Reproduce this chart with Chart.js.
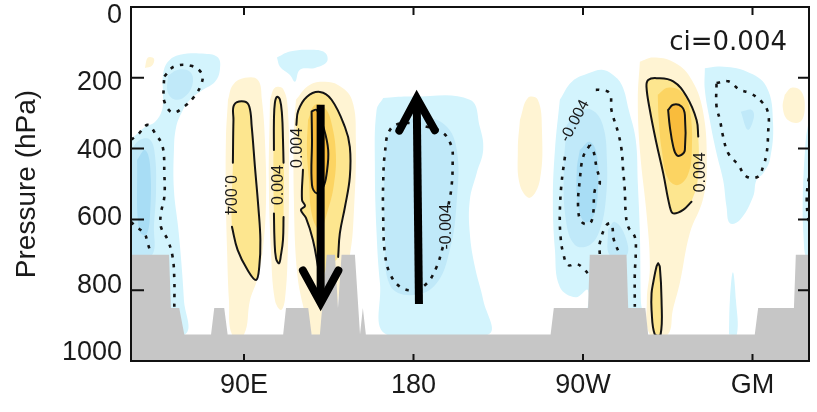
<!DOCTYPE html>
<html>
<head>
<meta charset="utf-8">
<script src="https://cdn.jsdelivr.net/npm/chart.js@4.4.0/dist/chart.umd.min.js"></script>
<style>
  html, body { margin: 0; padding: 0; background: #fff; }
</style>
</head>
<body>
<canvas id="chart" width="817" height="412"></canvas>
<script>
// axes
const lonTicks = [90, 180, 270, 360];
const lonLabels = ['90E', '180', '90W', 'GM'];
const presTicks = [0, 200, 400, 600, 800, 1000];

// topography (longitude, hPa)
const topoLon = [30, 50.2, 51.2, 55.6, 58.3, 72.5, 74.2, 79.5, 81.3, 110.8, 112.3, 124.1, 125.9, 130.3, 133.9, 138.3, 139.9, 141.8, 148.9, 151.6, 153.1, 154.7, 252.8, 254.5, 272.7, 273.6, 293.1, 294, 303.1, 304.6, 361.2, 363, 382, 383, 390];
const topoP = [700, 700, 850, 850, 925, 925, 850, 850, 925, 925, 850, 850, 925, 925, 700, 700, 850, 700, 700, 925, 850, 925, 925, 850, 850, 700, 700, 850, 850, 925, 925, 850, 850, 700, 700];

// shaded regions [lon, hPa]
// negative (blue)
const blueA1 = [[30,375],[32.7,361],[37.4,339],[42.7,325],[46.5,291],[47,248],[47,192],[49.6,155],[56,135],[69.3,132],[76.2,143],[77.2,177],[74.6,211],[68.2,234],[61.3,262],[57.1,296],[53.9,341],[52.8,404],[52.8,517],[55,621],[56.5,706],[58.1,828],[58.7,925],[30,925]];
const blueA2top = [[49.6,194],[55,177],[61.3,183],[62.9,211],[59.7,248],[53.9,262],[49.6,242]];
const blueA2left = [[30,404],[34.8,375],[40.1,375],[42.7,418],[43.3,517],[42.2,616],[41.1,701],[30,701]];
const blueA3 = [[33.2,432],[37.4,404],[40.1,446],[40.1,588],[38,644],[34.2,630]];
const blueC = [[107.5,143],[114.4,126],[125,121],[133,129],[134,155],[127.7,172],[119.7,177],[117.1,211],[114.4,192],[109.1,169]];
const blueD1 = [[163.9,257],[178.1,253],[209.9,262],[215.2,338],[217,404],[213.5,470],[209.9,545],[209.9,639],[212.6,734],[217,828],[219.7,925],[165.7,925],[162.2,781],[160.4,639],[159.5,451],[160.4,291]];
const blueD2 = [[170.1,333],[183.4,313],[196.7,333],[203,404],[203,545],[199.3,686],[191.4,786],[178.1,814],[167.5,786],[164.8,658],[164.3,489],[165.9,375]];
const blueF1 = [[257.7,262],[264.1,211],[273.6,186],[280,177],[285.3,189],[290.6,220],[294.3,291],[298,375],[299.1,497],[300.2,638],[300.7,828],[301.2,925],[273.6,925],[272.6,800],[266.2,820],[257.7,791],[255.1,686],[254,545],[255.1,404]];
const blueF2 = [[261.4,333],[267.3,296],[274.7,291],[280.5,333],[282.7,432],[282.1,545],[278.9,630],[273.6,672],[265.7,672],[260.9,602],[259.8,460]];
const blueF2b = [[283.2,630],[286.9,607],[292.2,644],[293.3,701],[284.2,701]];
const blueF3 = [[268.3,404],[273.6,381],[277.4,418],[277.9,517],[275.8,588],[271,607],[267.3,559],[266.7,460]];
const blueI1 = [[334.7,173],[342.7,168],[356.8,182],[367.4,225],[370.9,328],[369.2,432],[365.6,470],[362.1,489],[360.3,536],[353.3,602],[348,611],[346.2,564],[344.4,489],[340.9,413],[337.3,319],[334.7,234]];
const blueI2 = [[353.8,296],[359.6,291],[360.7,313],[357.5,347]];
const blueI3 = [[347.5,925],[348,828],[349.6,749],[351.2,828],[351.7,925]];
const blueJ = [[390,319],[388.3,375],[386.7,545],[387.2,658],[388.3,706],[390,706]];
// positive (yellow)
const yelA = [[37.4,172],[39,143],[42.2,146],[41.1,166]];
const yelB1 = [[81.5,262],[84.1,220],[90.5,200],[97.4,206],[99.5,262],[101.1,375],[101.7,545],[100,686],[96.9,771],[93.2,828],[90,925],[83.6,925],[82,828],[81,686],[80.4,545],[80.4,375]];
const yelB2 = [[84.1,440],[84.4,319],[84.8,276],[90.1,267],[92.8,281],[94.1,338],[95.8,451],[97.6,564],[98.7,658],[98.1,734],[96.4,771],[91.9,743],[86.6,686],[83.6,621]];
const yelC1a = [[103.8,262],[106.4,228],[110.7,231],[113.3,291],[113.9,489],[113.3,686],[111.7,828],[109.6,856],[106.4,828],[104.3,686],[103.2,489]];
const yelC1b = [[105.9,276],[107.5,254],[109.6,268],[110.7,347],[111.2,446],[111,593],[110.7,658],[109.6,701],[108.6,724],[107,710],[105.9,583],[105.6,446],[105.9,347]];
const yelC2a = [[117.6,262],[124,223],[131.4,211],[139.9,220],[147.3,262],[149.4,375],[148.4,573],[146.2,701],[140.9,800],[135.6,925],[126.1,925],[121.3,842],[118.1,743],[116.5,545],[116.5,347]];
const yelC2b = [[118.8,293],[123.3,254],[130.3,240],[136.5,262],[143.6,339],[146.2,395],[146.2,480],[143.6,565],[140.9,639],[140,706],[135,730],[130.3,766],[129.3,734],[126.6,658],[122.9,596],[120.2,573],[122.4,562],[120.8,545],[121.3,460],[119.5,400],[117.8,333]];
const yelC2c = [[124,319],[127.7,276],[133,285],[136.7,333],[138.8,418],[137.7,503],[134.6,573],[130.3,630],[126.1,588],[124.5,489],[123.4,404]];
const yelC2d = [[125.9,295],[128.6,291],[132.1,338],[134.7,404],[133.9,470],[132.1,508],[128.6,526],[126.1,503],[126.1,375]];
const yelE = [[236.5,319],[240.7,257],[246,262],[248.2,347],[247.1,489],[241.8,539],[236.5,503],[235.4,404]];
const yelG1 = [[300.2,155],[307.1,143],[317.7,155],[326.7,197],[333.6,291],[335.7,452],[333.6,545],[326.7,639],[321.4,780],[317.7,856],[315,925],[305.5,925],[303.9,828],[305.5,735],[303.9,593],[300.2,404],[299.1,262]];
const yelG2 = [[327.6,550],[323.2,573],[317.9,583],[316.1,564],[312.6,470],[309,385],[305.5,291],[303.7,225],[304.6,206],[309,201],[317.9,210],[325,253],[330.3,319],[331.2,366],[331.5,432],[330.5,503]];
const yelG3 = [[309.7,248],[315,228],[322.4,240],[326.7,291],[327.8,404],[325.7,474],[320.4,503],[315,483],[311.8,404],[310.2,319]];
const yelG4 = [[315.2,291],[317.9,276],[322.3,281],[324.1,305],[324.1,404],[322.3,418],[319.7,418],[317.9,394],[316.1,338]];
const yelH = [[309.9,724],[310.8,734],[311.7,828],[311.2,925],[308.1,925],[306.4,856],[306.4,809],[307.2,781],[309,734]];
const yelJ = [[377.1,248],[380.8,228],[386.1,240],[387.7,291],[385.1,325],[378.8,319],[376.1,285]];

// contour lines (+0.004 solid, -0.004 dashed)
const cB = [[83.6,621],[86.6,686],[91.9,743],[96.4,771],[98.1,734],[98.7,658],[97.6,564],[95.8,451],[94.1,338],[92.8,281],[90.1,267],[84.8,276],[84.4,319],[84.1,440]];
const cC1a = [[105.9,404],[105.9,319],[106.4,271],[107.5,254],[109.1,262],[110.2,305],[110.7,375],[111,440]];
const cC1b = [[111,593],[110.7,658],[109.6,701],[108.6,724],[107,710],[106.2,658],[105.9,583]];
const cC2a = [[117.8,333],[118.8,293],[123.3,254],[130.3,240],[136.5,262],[143.6,339],[146.2,395],[146.2,480],[143.6,565],[140.9,639],[140,706]];
const cC2b = [[121.3,460],[120.8,545],[122.4,562],[120.2,573],[122.9,596],[126.6,658],[129.3,734],[130.3,766]];
const cG = [[327.6,550],[323.2,573],[317.9,583],[316.1,564],[312.6,470],[309,385],[305.5,291],[303.7,225],[304.6,206],[309,201],[317.9,210],[325,253],[330.3,319],[331.2,366]];
const dA1 = [[47.7,196],[53,168],[61.8,166],[67.5,187],[67.5,215],[63.6,253],[58.3,281],[52.1,298],[47.7,267],[47.4,225]];
const dA2 = [[30,375],[33.6,361],[38.9,333],[43.3,361],[46.8,394],[47.7,470],[47.7,536],[45.9,583],[45.9,621],[49.5,658],[52.1,706],[53,771],[53,847]];
const dA3 = [[30,607],[32.7,621],[37.1,639],[38.9,668],[40.6,696]];
const dD = [[195.6,678],[192.3,734],[187,781],[179.9,800],[172.8,790],[167.5,753],[164.8,696],[163.9,592],[163.9,498],[164.8,413],[167.5,347],[174.5,328],[187,338],[195.8,356],[200.2,394],[200.8,432],[200.2,508],[198.4,564]];
const dF1 = [[276.8,234],[278.9,234],[284.2,244],[285.1,291],[288.7,356],[290.5,404],[291.3,460],[292.2,517],[292.7,583],[294,621],[297.5,649],[298,696],[297.5,753],[297.5,847]];
const dF2 = [[260.4,423],[258.6,498],[257.7,583],[258.1,649],[259.5,696],[262.1,729],[266.6,726],[270.1,738],[272.7,753]];
const dF3 = [[273.6,390],[270.1,423],[268.3,489],[267.4,564],[269.2,607],[273.6,611],[275.4,583],[276.3,517],[278.9,498],[277.1,451],[275.4,404]];
const dF4 = [[278.9,698],[278.9,667],[282.5,616],[285.1,613],[286.4,658],[289.5,698]];
const dI = [[340.9,215],[347.1,210],[353.3,234],[358.6,243],[364.8,267],[368.3,300],[368.3,356],[367.5,413],[365.6,451],[363,479],[356.8,479],[352.4,446],[347.1,413],[344.4,366],[342.7,319],[340.9,281]];
const dJ = [[390,483],[389.3,503],[388.8,545],[389.3,588],[390,607]];

// contour labels
const labelLon = [82.5, 108.4, 118.4, 197.6, 265.7, 332.3];
const labelP = [531, 503, 398, 621, 322, 467];
const labelText = ['0.004', '0.004', '0.004', '-0.004', '-0.004', '0.004'];
const labelAngle = [90, -90, -90, -90, -62, -90];

// arrows [lon, hPa] tail -> head
const arrowDown = [[130.7, 276], [130.7, 836]];
const arrowUp = [[182.9, 839], [181.7, 257]];

const BLUE1 = '#d3f4fd', BLUE2 = '#c0e9f9', BLUE3 = '#a8ddf5';
const YEL1 = '#fff4d3', YEL2 = '#fde68f', YEL3 = '#fcd462', ORANGE = '#f9bc3c';
const FONT = "'Liberation Sans', Arial, Helvetica, sans-serif";

const toXY = pts => pts.map(([x, y]) => ({x, y}));

function area(pts, color) {
    return {
        data: toXY(pts.concat([pts[0]])), showLine: true, fill: 'shape',
        backgroundColor: color, borderColor: 'rgba(0,0,0,0)', borderWidth: 0,
        pointRadius: 0, tension: 0.4
    };
}

function contour(pts, dashed, closed) {
    const p = closed ? pts.concat([pts[0]]) : pts;
    return {
        data: toXY(p), showLine: true, fill: false,
        borderColor: '#141414', borderWidth: dashed ? 2.6 : 2,
        borderDash: dashed ? [3.5, 6.5] : [], borderCapStyle: dashed ? 'butt' : 'round',
        pointRadius: 0, tension: 0.4
    };
}

const datasets = [
    area(blueA1, BLUE1), area(blueC, BLUE1), area(blueD1, BLUE1), area(blueF1, BLUE1),
    area(blueI1, BLUE1), area(blueI3, BLUE1), area(blueJ, BLUE1),
    area(yelA, YEL1), area(yelB1, YEL1), area(yelC1a, YEL1), area(yelC2a, YEL1),
    area(yelE, YEL1), area(yelG1, YEL1), area(yelJ, YEL1),
    area(blueA2top, BLUE2), area(blueA2left, BLUE2), area(blueD2, BLUE2),
    area(blueF2, BLUE2), area(blueF2b, BLUE2), area(blueI2, BLUE2),
    area(blueA3, BLUE3), area(blueF3, BLUE3),
    area(yelB2, YEL2), area(yelC1b, YEL2), area(yelC2b, YEL2), area(yelG2, YEL2), area(yelH, YEL2),
    area(yelC2c, YEL3), area(yelG3, YEL3),
    area(yelC2d, ORANGE), area(yelG4, ORANGE),
    contour(cB, false), contour(cC1a, false), contour(cC1b, false),
    contour(cC2a, false), contour(cC2b, false), contour(yelC2d, false, true),
    contour(cG, false), contour(yelG4, false, true), contour(yelH, false, true),
    contour(dA1, true, true), contour(dA2, true), contour(dA3, true), contour(dD, true),
    contour(dF1, true), contour(dF2, true), contour(dF3, true, true), contour(dF4, true),
    contour(dI, true, true), contour(dJ, true),
    {
        data: toXY(topoLon.map((x, i) => [x, topoP[i]])), showLine: true, fill: {value: 1000},
        backgroundColor: '#c6c6c6', borderColor: 'rgba(0,0,0,0)', borderWidth: 0,
        pointRadius: 0, tension: 0
    }
];
// first dataset at the bottom, last on top
datasets.forEach((d, i) => { d.order = datasets.length - i; });

function drawArrow(ctx, x0, y0, x1, y1) {
    const ang = Math.atan2(y1 - y0, x1 - x0);
    const hl = 37, spread = 0.5;
    ctx.lineCap = 'butt';
    ctx.beginPath();
    ctx.moveTo(x0, y0);
    ctx.lineTo(x1, y1);
    ctx.stroke();
    ctx.lineCap = 'round';
    ctx.lineJoin = 'miter';
    ctx.beginPath();
    ctx.moveTo(x1 - hl * Math.cos(ang - spread), y1 - hl * Math.sin(ang - spread));
    ctx.lineTo(x1, y1);
    ctx.lineTo(x1 - hl * Math.cos(ang + spread), y1 - hl * Math.sin(ang + spread));
    ctx.stroke();
}

const decor = {
    id: 'decor',
    afterDatasetsDraw(chart) {
        const {ctx, scales: {x, y}} = chart;
        ctx.save();
        // contour labels
        ctx.fillStyle = '#1a1a1a';
        ctx.font = '16px ' + FONT;
        ctx.textAlign = 'center';
        ctx.textBaseline = 'middle';
        labelText.forEach((t, i) => {
            ctx.save();
            ctx.translate(x.getPixelForValue(labelLon[i]), y.getPixelForValue(labelP[i]));
            ctx.rotate(labelAngle[i] * Math.PI / 180);
            ctx.fillText(t, 0, 0);
            ctx.restore();
        });
        // arrows
        ctx.strokeStyle = '#000';
        ctx.lineWidth = 8;
        [arrowDown, arrowUp].forEach(a => {
            drawArrow(ctx, x.getPixelForValue(a[0][0]), y.getPixelForValue(a[0][1]),
                x.getPixelForValue(a[1][0]), y.getPixelForValue(a[1][1]));
        });
        ctx.restore();
    },
    afterDraw(chart) {
        const {ctx, chartArea: a, scales: {x, y}} = chart;
        ctx.save();
        ctx.strokeStyle = '#111';
        ctx.lineWidth = 2;
        ctx.strokeRect(a.left, a.top, a.right - a.left, a.bottom - a.top);
        ctx.beginPath();
        lonTicks.forEach(v => {
            const px = x.getPixelForValue(v);
            ctx.moveTo(px, a.bottom); ctx.lineTo(px, a.bottom - 7);
            ctx.moveTo(px, a.top); ctx.lineTo(px, a.top + 8);
        });
        presTicks.forEach(v => {
            const py = y.getPixelForValue(v);
            ctx.moveTo(a.left, py); ctx.lineTo(a.left + 13, py);
            ctx.moveTo(a.right, py); ctx.lineTo(a.right - 11, py);
        });
        ctx.stroke();
        // pressure labels sit slightly inside the end ticks, as in the original
        const mid = (a.top + a.bottom) / 2;
        ctx.fillStyle = '#1a1a1a';
        ctx.font = '27px ' + FONT;
        ctx.textAlign = 'right';
        ctx.textBaseline = 'middle';
        presTicks.forEach(v => {
            const py = mid + (y.getPixelForValue(v) - mid) * 0.952;
            ctx.fillText(String(v), a.left - 9, py);
        });
        // contour interval note
        ctx.font = "26px 'DejaVu Sans', sans-serif";
        ctx.textAlign = 'right';
        ctx.textBaseline = 'alphabetic';
        ctx.fillText('ci=0.004', a.right - 22, a.top + 43);
        ctx.restore();
    }
};

new Chart(document.getElementById('chart'), {
    type: 'scatter',
    data: { datasets },
    options: {
        responsive: false,
        animation: false,
        events: [],
        layout: { padding: { top: 7, right: 8, left: 0, bottom: 0 } },
        plugins: { legend: { display: false }, tooltip: { enabled: false } },
        scales: {
            x: {
                type: 'linear', min: 30, max: 390, position: 'bottom',
                afterBuildTicks: s => { s.ticks = lonTicks.map(v => ({value: v})); },
                ticks: {
                    callback: (v, i) => lonLabels[i],
                    font: { family: FONT, size: 27 }, color: '#1a1a1a',
                    padding: 8, maxRotation: 0, autoSkip: false
                },
                grid: { display: false, drawTicks: false },
                border: { display: false },
                afterFit: s => { s.height = 51; }
            },
            y: {
                type: 'linear', reverse: true, min: 0, max: 1000,
                afterBuildTicks: s => { s.ticks = presTicks.map(v => ({value: v})); },
                ticks: { display: false },
                title: {
                    display: true, text: 'Pressure (hPa)', color: '#1a1a1a',
                    font: { family: FONT, size: 28 }, padding: { top: 10, bottom: 0 }
                },
                grid: { display: false, drawTicks: false },
                border: { display: false },
                afterFit: s => { s.width = 131; }
            }
        }
    },
    plugins: [decor]
});
</script>
</body>
</html>
